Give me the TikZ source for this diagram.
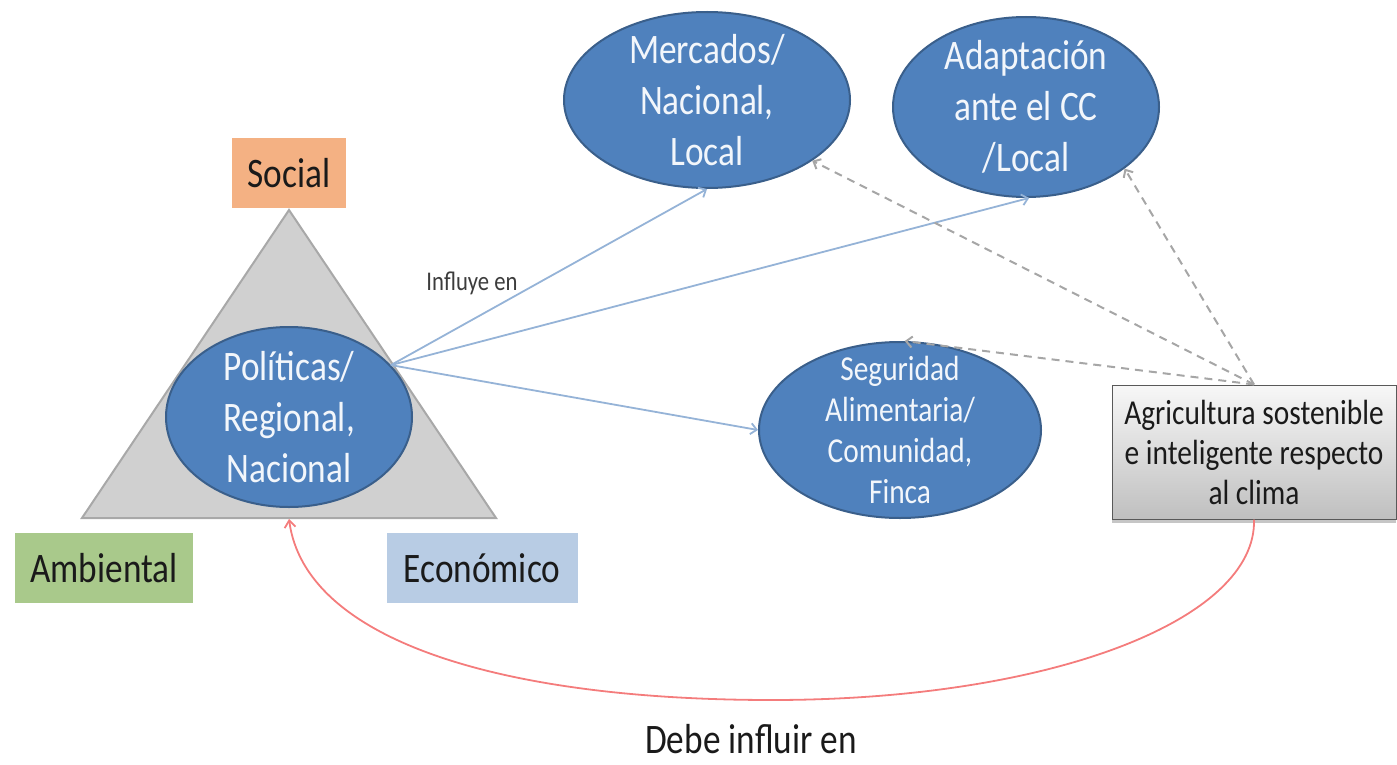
\documentclass[tikz,border=0pt]{standalone}
\usepackage{fontspec}
\setmainfont{Carlito}[FakeStretch=0.84]
\usetikzlibrary{shapes.geometric,arrows.meta,shadows}
\definecolor{ellfill}{HTML}{4F81BD}
\definecolor{elldraw}{HTML}{3A5F8B}
\definecolor{socialc}{HTML}{F4B183}
\definecolor{ambc}{HTML}{A9C98B}
\definecolor{ecoc}{HTML}{B8CCE4}
\definecolor{trifill}{HTML}{D0D0D0}
\definecolor{tridraw}{HTML}{A8A8A8}
\definecolor{bluel}{HTML}{95B3D7}
\definecolor{dashc}{HTML}{A6A6A6}
\definecolor{redc}{HTML}{F47C7C}
\definecolor{elltext}{HTML}{F2F6FB}
\definecolor{darktext}{HTML}{1A1A1A}
\begin{document}
\begin{tikzpicture}[x=1pt,y=-1pt,
  bubble/.style={ellipse, fill=ellfill, draw=elldraw, line width=2pt, inner sep=0pt},
  bubtext/.style={text=elltext, align=center, inner sep=0pt, font=\fontsize{42}{51}\selectfont},
  smalltext/.style={text=elltext, align=center, inner sep=0pt, font=\fontsize{35}{41}\selectfont},
  dimbox/.style={rectangle, inner sep=0pt, text=darktext, font=\fontsize{42}{48}\selectfont},
  influence/.style={draw=bluel, line width=1.8pt, -{Straight Barb[length=6pt,width=11pt]}},
  feedback/.style={draw=dashc, line width=2pt, dash pattern=on 8pt off 6pt, -{Straight Barb[length=6pt,width=11pt]}},
  mustline/.style={draw=redc, line width=1.8pt, -{Straight Barb[length=7pt,width=11pt]}}
]
\useasboundingbox (0,0) rectangle (1397,765);

% triangle
\coordinate (apex) at (289,210);
\coordinate (bl) at (82,518);
\coordinate (br) at (496,518);
\coordinate (tribase) at (289,519);
\draw[fill=trifill, draw=tridraw, line width=2pt] (apex) -- (bl) -- (br) -- cycle;

% dimension boxes
\node[dimbox, fill=socialc, minimum width=114pt, minimum height=70pt] (social) at (289,173) {Social};
\node[dimbox, fill=ambc, minimum width=178pt, minimum height=70pt] (amb) at (104,568) {Ambiental};
\node[dimbox, fill=ecoc, minimum width=191pt, minimum height=70pt] (eco) at (482,568) {Económico};

% ellipses
\node[bubble, minimum width=246pt, minimum height=180pt] (pol) at (289,417) {};
\node[bubtext] (poltext) at (pol.center) {Políticas/\\Regional,\\Nacional};
\node[bubble, minimum width=286pt, minimum height=176pt] (merc) at (707,100) {};
\node[bubtext] (merctext) at (merc.center) {Mercados/\\Nacional,\\Local};
\node[bubble, minimum width=266pt, minimum height=180pt] (adap) at (1026,107) {};
\node[bubtext] (adaptext) at (adap.center) {Adaptación\\ante el CC\\/Local};
\node[bubble, minimum width=282pt, minimum height=176pt] (seg) at (900,430) {};
\node[smalltext] (segtext) at (seg.center) {Seguridad\\Alimentaria/\\Comunidad,\\Finca};

% agriculture box
\node[rectangle, draw=gray!70!black, line width=1pt, top color=gray!6, bottom color=gray!50,
      drop shadow={shadow xshift=0pt, shadow yshift=-4pt, opacity=0.45},
      minimum width=284pt, minimum height=134pt, inner sep=0pt, align=center,
      text=darktext, font=\fontsize{35}{40}\selectfont] (agri) at (1254,452)
      {Agricultura sostenible\\e inteligente respecto\\al clima};

% influence arrows
\draw[influence] (pol.27) -- (merc.south);
\draw[influence] (pol.27) -- (adap.-88);
\draw[influence] (pol.27) -- (seg.west);
\node[text=darktext!85, font=\fontsize{27}{30}\selectfont, inner sep=0pt] (influye) at (472,283) {Influye en};

% feedback dashed arrows
\draw[feedback] (agri.north) -- (merc.-30);
\draw[feedback] (agri.north) -- (adap.-32);
\draw[feedback] (agri.north) -- (seg.87);

% must-influence curve
\draw[mustline] (agri.south) .. controls (1257,620) and (1050,700) .. (772,700)
      .. controls (500,700) and (305,640) .. (tribase);
\node[anchor=base, text=darktext, font=\fontsize{42}{48}\selectfont, inner sep=0pt] (debe) at (751,753) {Debe influir en};
\end{tikzpicture}
\end{document}
